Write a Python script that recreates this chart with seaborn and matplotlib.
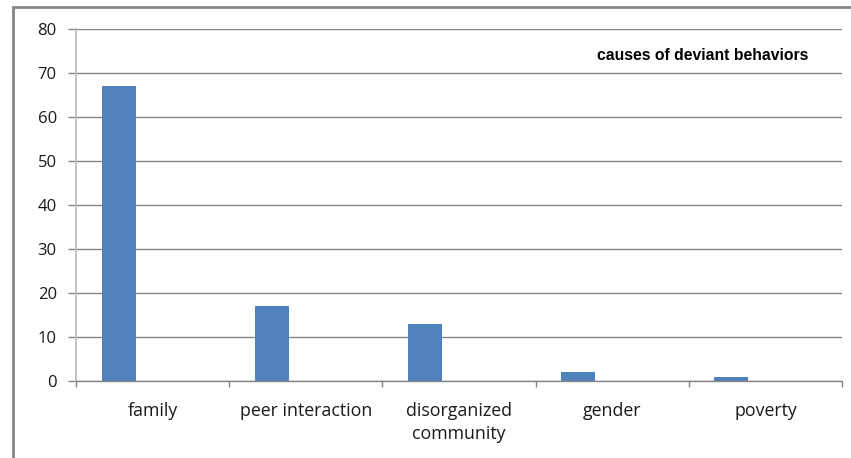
import matplotlib
matplotlib.use("Agg")
import matplotlib.pyplot as plt
from matplotlib.patches import Rectangle
import seaborn as sns
import pandas as pd

# Survey results: share of respondents naming each cause
categories = ["family", "peer interaction", "disorganized\ncommunity", "gender", "poverty"]
values = [67, 17, 13, 2, 1]
series_name = "causes of deviant behaviors"
# the chart keeps two empty series slots beside the data series
series_slots = [series_name, "series 2", "series 3"]
y_ticks = [0, 10, 20, 30, 40, 50, 60, 70, 80]

bar_color = "#4F81BD"
grid_color = "#868686"
axis_color = "#BFBFBF"

sns.set_theme(style="white")
plt.rcParams["font.family"] = ["Open Sans", "DejaVu Sans"]

W, H = 851, 458
fig = plt.figure(figsize=(W / 100, H / 100), dpi=100)
ax = fig.add_axes([76 / W, 77 / H, (842 - 76) / W, (381 - 29) / H])

df = pd.DataFrame({
    "cause": categories,
    "value": values,
    "series": [series_name] * len(categories),
})

sns.barplot(
    data=df, x="cause", y="value", hue="series",
    order=categories, hue_order=series_slots,
    palette=[bar_color] * len(series_slots),
    width=0.667, dodge=True, legend=False,
    saturation=1, ax=ax, linewidth=0,
)

ax.set_xlim(-0.5, len(categories) - 0.5)
ax.set_ylim(0, 80)
ax.set_yticks(y_ticks)
ax.set_yticklabels([str(t) for t in y_ticks], fontsize=12, color="#1a1a1a")
ax.yaxis.grid(True, color=grid_color, linewidth=1.0)
ax.set_axisbelow(True)
ax.tick_params(axis="y", length=5.8, width=1.0, color=grid_color, pad=8, left=True)

# category labels centered, tick marks between categories
ax.set_xticks(range(len(categories)))
ax.set_xticklabels(categories, fontsize=12.8, color="#1a1a1a", linespacing=1.4)
ax.tick_params(axis="x", which="major", length=0, pad=15)
ax.set_xticks([i - 0.5 for i in range(len(categories) + 1)], minor=True)
ax.tick_params(axis="x", which="minor", length=4, width=1.0, color=grid_color,
               direction="out", bottom=True)
ax.set_xlabel("")
ax.set_ylabel("")

for side in ["top", "right"]:
    ax.spines[side].set_visible(False)
ax.spines["left"].set_color(axis_color)
ax.spines["left"].set_linewidth(1.3)
ax.spines["bottom"].set_color(grid_color)
ax.spines["bottom"].set_linewidth(1.0)

# series name in the upper right of the plot area
fig.text(703 / W, 1 - 56 / H, series_name, ha="center", va="center",
         fontsize=11.3, fontweight="bold", family=["Liberation Sans", "DejaVu Sans"],
         color="#000000")

# outer chart frame
fig.patches.append(Rectangle((13 / W, -0.2), 1.2, 1.2 - 7 / H,
                             transform=fig.transFigure, fill=False,
                             edgecolor=grid_color, linewidth=2.0))

fig.savefig("out.png", dpi=100, facecolor="white")
